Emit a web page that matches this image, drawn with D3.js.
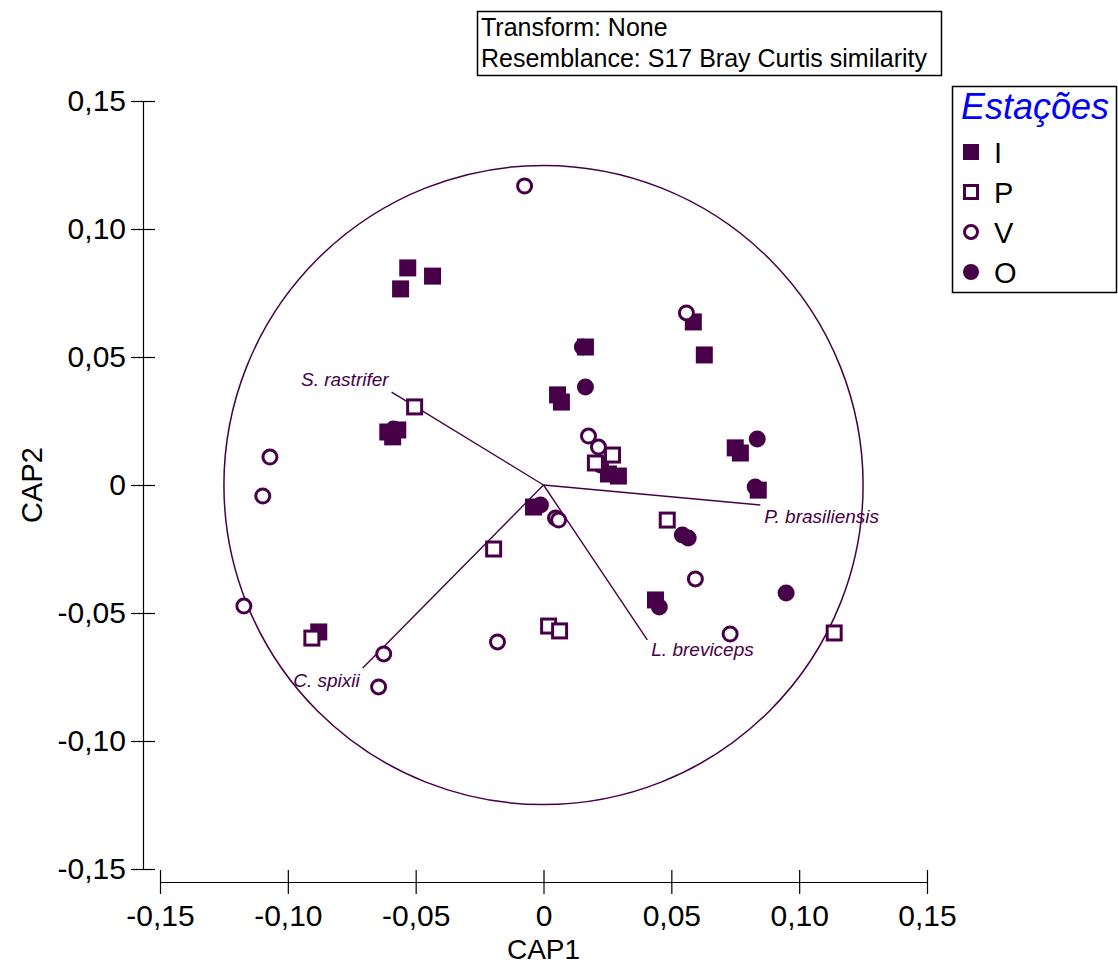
<!DOCTYPE html>
<html>
<head>
<meta charset="utf-8">
<script src="https://cdn.jsdelivr.net/npm/d3@7"></script>
<style>
  html, body { margin: 0; padding: 0; background: #fff; }
  svg { display: block; font-family: "Liberation Sans", Arial, sans-serif; }
</style>
</head>
<body>
<svg id="chart" width="1118" height="967"></svg>
<script>
// ---------------- DATA ----------------
const tickValues = [-0.15, -0.10, -0.05, 0, 0.05, 0.10, 0.15];
const groups = ["I", "P", "V", "O"];
const legendTitle = "Estações";
const headerLines = ["Transform: None", "Resemblance: S17 Bray Curtis similarity"];
const xTitle = "CAP1";
const yTitle = "CAP2";
const circleRadius = 0.125;

// group I (filled squares): [CAP1, CAP2]
const seriesI = [
  [-0.0531, 0.0848], [-0.0434, 0.0816], [-0.0559, 0.0766], [0.0164, 0.0539],
  [0.0055, 0.0352], [0.0070, 0.0324], [0.0586, 0.0637], [0.0629, 0.0508],
  [0.0750, 0.0145], [0.0770, 0.0125], [0.0840, -0.0020], [-0.0609, 0.0207],
  [-0.0590, 0.0188], [-0.0570, 0.0215], [-0.0039, -0.0086], [0.0254, 0.0043],
  [0.0293, 0.0035], [0.0438, -0.0449], [-0.0879, -0.0574]
];
// group P (open squares)
const seriesP = [
  [-0.0504, 0.0305], [0.0270, 0.0117], [0.0203, 0.0086], [0.0484, -0.0137],
  [-0.0195, -0.0250], [0.0020, -0.0551], [0.0063, -0.0570], [0.1137, -0.0578],
  [-0.0906, -0.0598]
];
// group V (open circles)
const seriesV = [
  [-0.0074, 0.1168], [0.0559, 0.0672], [0.0176, 0.0191], [0.0215, 0.0148],
  [-0.1070, 0.0109], [-0.1098, -0.0043], [0.0047, -0.0129], [0.0059, -0.0137],
  [0.0594, -0.0367], [-0.1172, -0.0473], [-0.0625, -0.0660], [-0.0645, -0.0789],
  [-0.0180, -0.0613], [0.0730, -0.0582]
];
// group O (filled circles)
const seriesO = [
  [0.0152, 0.0539], [0.0164, 0.0383], [0.0223, 0.0078], [-0.0012, -0.0078],
  [0.0836, 0.0180], [0.0828, -0.0008], [0.0543, -0.0195], [0.0566, -0.0207],
  [0.0453, -0.0477], [0.0949, -0.0422], [-0.0586, 0.0219]
];

// species vectors
const vectorNames = ["S. rastrifer", "P. brasiliensis", "L. breviceps", "C. spixii"];
const vectorX = [-0.0594, 0.0848, 0.0406, -0.0707];
const vectorY = [0.0363, -0.0078, -0.0605, -0.0715];

// ---------------- STYLE ----------------
const purple = "#470047";
const labelStyle = [
  { anchor: "end", dx: -3, dy: -6 },
  { anchor: "start", dx: 4, dy: 18 },
  { anchor: "start", dx: 4, dy: 16 },
  { anchor: "end", dx: -3, dy: 19 }
];

const svg = d3.select("#chart");
const x = d3.scaleLinear().domain([-0.15, 0.15]).range([160, 927]);
const y = d3.scaleLinear().domain([-0.15, 0.15]).range([869, 101]);
const fmt = d => d === 0 ? "0" : (d < 0 ? "-" : "") + Math.abs(d).toFixed(2).replace(".", ",");

// header box
const hdr = svg.append("g");
hdr.append("rect").attr("x", 477.5).attr("y", 11.5).attr("width", 464).attr("height", 64)
  .attr("fill", "#fff").attr("stroke", "#000").attr("stroke-width", 1.5);
hdr.selectAll("text").data(headerLines).join("text")
  .attr("x", 481).attr("y", (d, i) => 36 + i * 31)
  .attr("font-size", 25).attr("fill", "#000").text(d => d);

// axes
const xAxisG = svg.append("g").attr("transform", "translate(0,882)")
  .call(d3.axisBottom(x).tickValues(tickValues).tickFormat(fmt).tickSizeInner(12).tickSizeOuter(0).tickPadding(11));
xAxisG.select(".domain").attr("stroke", "#000").attr("stroke-width", 1.2);
xAxisG.selectAll(".tick line").attr("y1", -12).attr("y2", 12).attr("stroke", "#000").attr("stroke-width", 1.2);
xAxisG.selectAll(".tick text").attr("font-size", 30).attr("font-family", "Liberation Sans, Arial, sans-serif").attr("fill", "#000");

const yAxisG = svg.append("g").attr("transform", "translate(143,0)")
  .call(d3.axisLeft(y).tickValues(tickValues).tickFormat(fmt).tickSizeInner(12).tickSizeOuter(0).tickPadding(5));
yAxisG.select(".domain").attr("stroke", "#000").attr("stroke-width", 1.2);
yAxisG.selectAll(".tick line").attr("x1", -12).attr("x2", 12).attr("stroke", "#000").attr("stroke-width", 1.2);
yAxisG.selectAll(".tick text").attr("font-size", 30).attr("font-family", "Liberation Sans, Arial, sans-serif").attr("fill", "#000");

svg.append("text").attr("x", (x(-0.15) + x(0.15)) / 2).attr("y", 959).attr("text-anchor", "middle")
  .attr("font-size", 28).attr("fill", "#000").text(xTitle);
svg.append("text").attr("transform", `translate(42,${y(0)}) rotate(-90)`).attr("text-anchor", "middle")
  .attr("font-size", 29).attr("fill", "#000").text(yTitle);

// correlation circle
svg.append("circle").attr("cx", x(0)).attr("cy", y(0)).attr("r", x(circleRadius) - x(0))
  .attr("fill", "none").attr("stroke", purple).attr("stroke-width", 1.5);

// vectors
const vectors = vectorNames.map((n, i) => ({ name: n, vx: vectorX[i], vy: vectorY[i], st: labelStyle[i] }));
svg.append("g").selectAll("line").data(vectors).join("line")
  .attr("x1", x(0)).attr("y1", y(0)).attr("x2", d => x(d.vx)).attr("y2", d => y(d.vy))
  .attr("stroke", purple).attr("stroke-width", 1.4);
svg.append("g").selectAll("text").data(vectors).join("text")
  .attr("x", d => x(d.vx) + d.st.dx).attr("y", d => y(d.vy) + d.st.dy)
  .attr("text-anchor", d => d.st.anchor).attr("font-style", "italic").attr("font-size", 19)
  .attr("fill", purple).text(d => d.name);

// markers
const S = 17;
function drawMarker(sel, type, size) {
  if (type === "I") {
    sel.append("rect").attr("x", -size / 2).attr("y", -size / 2).attr("width", size).attr("height", size).attr("fill", purple);
  } else if (type === "P") {
    const s = size - 3;
    sel.append("rect").attr("x", -s / 2).attr("y", -s / 2).attr("width", s).attr("height", s)
      .attr("fill", "#fff").attr("stroke", purple).attr("stroke-width", 3);
  } else if (type === "V") {
    sel.append("circle").attr("r", (size - 3) / 2).attr("fill", "#fff").attr("stroke", purple).attr("stroke-width", 3);
  } else {
    sel.append("circle").attr("r", size / 2).attr("fill", purple);
  }
}
const seriesMap = { I: seriesI, P: seriesP, V: seriesV, O: seriesO };
const drawOrder = ["O", "I", "P", "V"];
drawOrder.forEach(g => {
  const gg = svg.append("g");
  seriesMap[g].forEach(p => {
    const m = gg.append("g").attr("transform", `translate(${x(p[0])},${y(p[1])})`);
    drawMarker(m, g, S);
  });
});

// legend
const lg = svg.append("g");
lg.append("rect").attr("x", 952.5).attr("y", 86.5).attr("width", 164).attr("height", 206)
  .attr("fill", "#fff").attr("stroke", "#000").attr("stroke-width", 1.5);
lg.append("text").attr("x", 961).attr("y", 119).attr("font-size", 36).attr("font-style", "italic")
  .attr("fill", "#0000ff").text(legendTitle);
groups.forEach((g, i) => {
  const cy = 152 + i * 40;
  const m = lg.append("g").attr("transform", `translate(971,${cy})`);
  drawMarker(m, g, 16);
  lg.append("text").attr("x", 994).attr("y", cy + 11).attr("font-size", 29).attr("fill", "#000").text(g);
});
</script>
</body>
</html>
